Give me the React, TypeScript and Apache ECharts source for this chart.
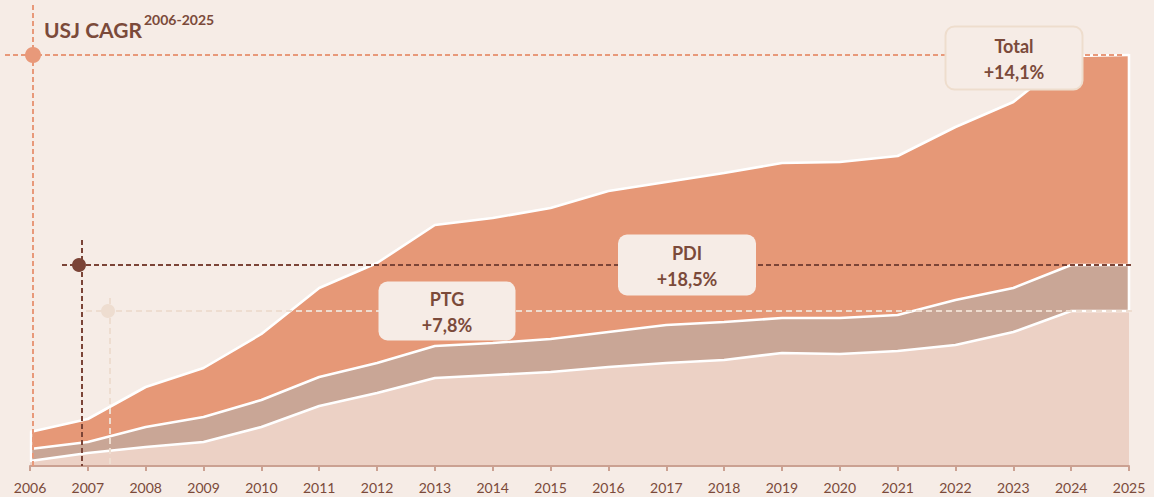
import React, { useEffect, useRef } from "react";
import * as echarts from "echarts";

const years = ["2006","2007","2008","2009","2010","2011","2012","2013","2014","2015","2016","2017","2018","2019","2020","2021","2022","2023","2024","2025"];
const layerBase = [5, 13, 19, 24, 39, 60, 73, 88, 91, 94, 99, 103, 106, 113, 112, 115, 121, 134, 155, 155];
const layerMid = [12, 11, 20, 25, 27, 29, 30, 32, 32, 33, 35, 38, 38, 35, 36, 36, 45, 44, 46, 46];
const layerTop = [17, 23, 40, 49, 66, 89, 100, 121, 125, 131, 141, 143, 149, 155, 156, 159, 173, 186, 209, 210];

const boxTitles = ["Total", "PDI", "PTG"];
const boxValues = ["+14,1%", "+18,5%", "+7,8%"];
const titleMain = "USJ CAGR";
const titleSup = "2006-2025";

const BG = "#F6ECE6";
const BROWN = "#7B4A3A";
const ORANGE = "#E69877";
const MIDC = "#C9A696";
const LIGHT = "#ECD1C5";
const FONT = "Lato, 'Noto Sans', sans-serif";

export default function App() {
  const ref = useRef<HTMLDivElement>(null);
  useEffect(() => {
    if (!ref.current) return;
    const chart = echarts.init(ref.current, null, { renderer: "svg" });
    const mkSeries = (name: string, data: number[], color: string) => ({
      name,
      type: "line",
      stack: "all",
      data,
      symbol: "none",
      lineStyle: { color: "#FFFFFF", width: 2.6 },
      areaStyle: { color, opacity: 1 },
    });
    chart.setOption({
      animation: false,
      backgroundColor: BG,
      grid: { left: 30, right: 25, top: 0, bottom: 31 },
      xAxis: {
        type: "category",
        boundaryGap: false,
        data: years,
        axisLine: { lineStyle: { color: "#CBA192", width: 2 } },
        axisTick: { show: true, length: 5, lineStyle: { color: "#CBA192", width: 2 } },
        axisLabel: { color: BROWN, fontSize: 14, fontFamily: FONT, margin: 14, showMinLabel: true, showMaxLabel: true, interval: 0 },
        splitLine: { show: false },
        z: 5,
      },
      yAxis: { type: "value", min: 0, max: 466, show: false, splitLine: { show: false } },
      series: [
        mkSeries("Couche 1", layerBase, LIGHT),
        mkSeries("Couche 2", layerMid, MIDC),
        mkSeries("Couche 3", layerTop, ORANGE),
      ],
    });

    const last = years.length - 1;
    const cBase = layerBase[last];
    const cMid = cBase + layerMid[last];
    const cTot = cMid + layerTop[last];
    const p = (i: number, v: number) => chart.convertToPixel({ gridIndex: 0 }, [i, v]) as number[];
    const yTot = p(last, cTot)[1];
    const yMid = p(last, cMid)[1];
    const yBase = p(last, cBase)[1];
    const xLast = p(last, 0)[0];
    const yAxisPx = p(0, 0)[1];
    const xFirst = p(0, 0)[0];
    const yFirstTop = p(0, layerBase[0] + layerMid[0] + layerTop[0])[1];
    const yFirstBase = p(0, layerBase[0])[1];

    const dash = (x1: number, y1: number, x2: number, y2: number, color: string, d: number[]) => ({
      type: "line",
      z: 50,
      shape: { x1, y1, x2, y2 },
      style: { stroke: color, lineWidth: 2, lineDash: d },
    });
    const box = (cx: number, cy: number, w: number, h: number, title: string, val: string, border: boolean) => ([
      {
        type: "rect",
        z: 60,
        shape: { x: cx - w / 2, y: cy - h / 2, width: w, height: h, r: 9 },
        style: { fill: BG, stroke: border ? "#EEDDCD" : null, lineWidth: border ? 2 : 0 },
      },
      {
        type: "text",
        z: 61,
        x: cx,
        y: cy - 12,
        style: { text: title, fill: BROWN, font: `bold 18px ${FONT}`, align: "center", verticalAlign: "middle" },
      },
      {
        type: "text",
        z: 61,
        x: cx,
        y: cy + 14,
        style: { text: val, fill: BROWN, font: `bold 18px ${FONT}`, align: "center", verticalAlign: "middle" },
      },
    ]);

    chart.setOption({
      graphic: [
        { type: "line", z: 40, shape: { x1: xLast, y1: yTot - 1, x2: xLast, y2: yBase }, style: { stroke: "#FFFFFF", lineWidth: 2.6 } },
        { type: "line", z: 40, shape: { x1: xFirst + 1, y1: yFirstTop, x2: xFirst + 1, y2: yFirstBase }, style: { stroke: "#FFFFFF", lineWidth: 2.4 } },
        dash(5, yTot, xLast - 6, yTot, "#E8997A", [5, 3]),
        dash(33, 5, 33, yAxisPx, "#E8997A", [5, 3]),
        { type: "circle", z: 55, shape: { cx: 33, cy: yTot, r: 8 }, style: { fill: "#E8997A" } },
        dash(62, yMid, xLast + 4, yMid, "#7B4437", [5, 3]),
        dash(82, 240, 82, yAxisPx, "#7B4437", [5, 3]),
        { type: "circle", z: 55, shape: { cx: 79, cy: yMid, r: 7 }, style: { fill: "#7B4437" } },
        dash(86, yBase, xLast + 6, yBase, "#EEDDD0", [6, 4]),
        dash(110, 298, 110, yAxisPx, "#EEDDD0", [6, 4]),
        { type: "circle", z: 55, shape: { cx: 108, cy: yBase, r: 7 }, style: { fill: "#EEDDD0" } },
        { type: "text", z: 70, x: 44, y: 29, style: { text: titleMain, fill: BROWN, font: `bold 21px ${FONT}`, align: "left", verticalAlign: "middle" } },
        { type: "text", z: 70, x: 144, y: 19, style: { text: titleSup, fill: BROWN, font: `bold 14px ${FONT}`, align: "left", verticalAlign: "middle" } },
        ...box(1014, 58, 137, 63, boxTitles[0], boxValues[0], true),
        ...box(687, yMid, 138, 61, boxTitles[1], boxValues[1], false),
        ...box(447, yBase, 137, 59, boxTitles[2], boxValues[2], false),
      ],
    });
    return () => chart.dispose();
  }, []);
  return (
    <div
      ref={ref}
      style={{ position: "fixed", left: 0, top: 0, width: 1154, height: 497, background: BG }}
    />
  );
}
